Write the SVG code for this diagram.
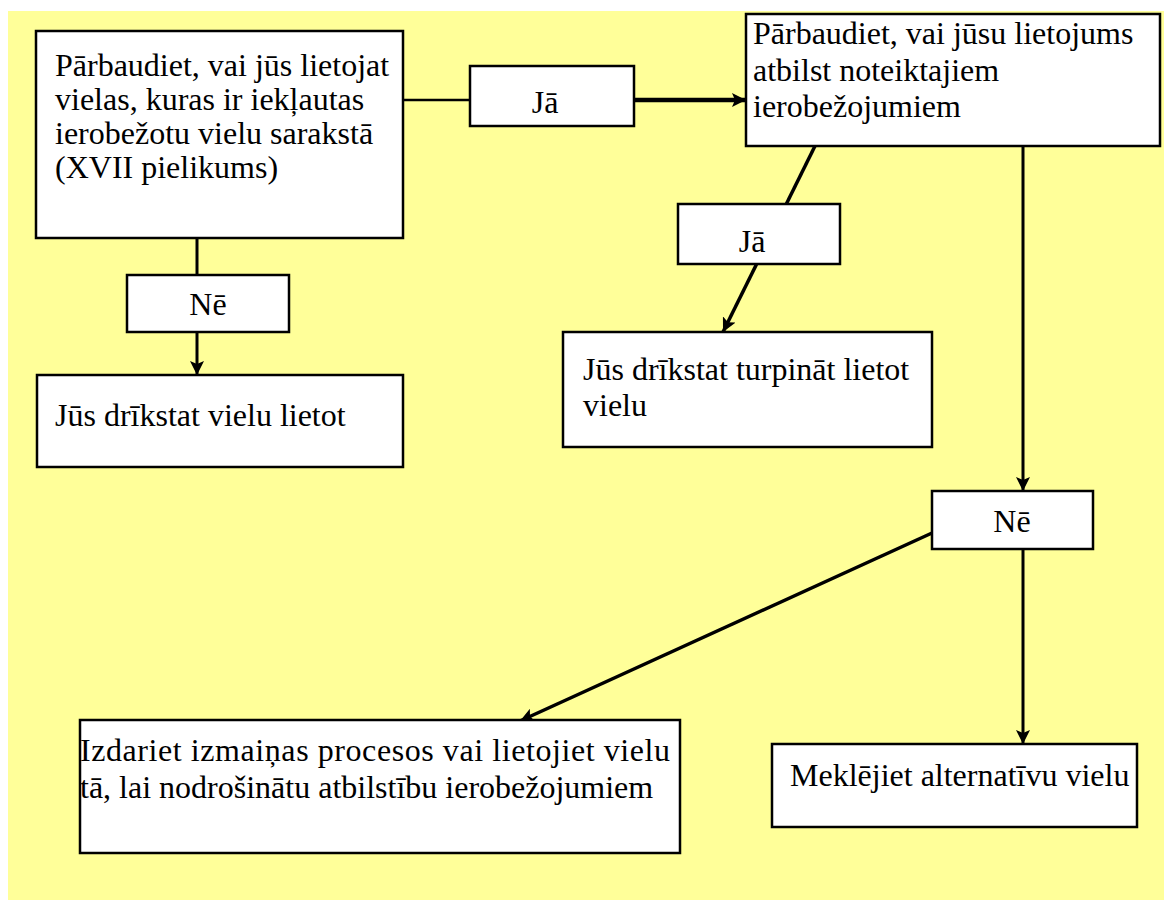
<svg xmlns="http://www.w3.org/2000/svg" width="1170" height="900" viewBox="0 0 1170 900">
  <style>
    .box { fill: #ffffff; stroke: #000000; stroke-width: 2.5; }
    .t { font-family: 'Liberation Serif', 'DejaVu Serif', serif; font-size: 32px; fill: #000000; }
    .c { text-anchor: middle; }
    .line { stroke: #000000; fill: none; }
  </style>
  <defs>
    <marker id="arrow-lg" viewBox="0 0 14 14" refX="14" refY="7" markerWidth="14" markerHeight="14" markerUnits="userSpaceOnUse" orient="auto">
      <path d="M0,0 L14,7 L0,14 L3,7 z" fill="#000000"/>
    </marker>
  </defs>

  <!-- page background -->
  <rect x="8" y="11" width="1156" height="889" fill="#ffff99"/>

  <!-- connectors (drawn under the label boxes) -->
  <g id="connectors">
    <line class="line" x1="403" y1="100" x2="470" y2="100" stroke-width="2.5"/>
    <line class="line" x1="634" y1="100" x2="746" y2="100" stroke-width="4.5" marker-end="url(#arrow-lg)"/>
    <line class="line" x1="815" y1="146" x2="723" y2="332" stroke-width="3.5" marker-end="url(#arrow-lg)"/>
    <line class="line" x1="197" y1="236" x2="197" y2="375" stroke-width="3" marker-end="url(#arrow-lg)"/>
    <line class="line" x1="1023" y1="146" x2="1023" y2="491" stroke-width="3" marker-end="url(#arrow-lg)"/>
    <line class="line" x1="1023" y1="548" x2="1023" y2="744" stroke-width="3" marker-end="url(#arrow-lg)"/>
    <line class="line" x1="932" y1="533" x2="520" y2="721" stroke-width="3.5" marker-end="url(#arrow-lg)"/>
  </g>

  <g id="check-list">
    <rect class="box" x="36" y="31" width="367" height="207"/>
    <text class="t" x="55" y="76">Pārbaudiet, vai jūs lietojat</text>
    <text class="t" x="55" y="110">vielas, kuras ir iekļautas</text>
    <text class="t" x="55" y="144">ierobežotu vielu sarakstā</text>
    <text class="t" x="55" y="178">(XVII pielikums)</text>
  </g>

  <g id="yes-1">
    <rect class="box" x="470" y="66" width="164" height="60"/>
    <text class="t c" x="545" y="113">Jā</text>
  </g>

  <g id="check-use">
    <rect class="box" x="746" y="14" width="414" height="132"/>
    <text class="t" x="753" y="44">Pārbaudiet, vai jūsu lietojums</text>
    <text class="t" x="753" y="81">atbilst noteiktajiem</text>
    <text class="t" x="753" y="117">ierobežojumiem</text>
  </g>

  <g id="no-1">
    <rect class="box" x="127" y="275" width="162" height="57"/>
    <text class="t c" x="208" y="315">Nē</text>
  </g>

  <g id="may-use">
    <rect class="box" x="37" y="375" width="366" height="92"/>
    <text class="t" x="55" y="426">Jūs drīkstat vielu lietot</text>
  </g>

  <g id="yes-2">
    <rect class="box" x="678" y="204" width="162" height="60"/>
    <text class="t c" x="752" y="252">Jā</text>
  </g>

  <g id="may-continue">
    <rect class="box" x="563" y="332" width="369" height="115"/>
    <text class="t" x="583" y="380">Jūs drīkstat turpināt lietot</text>
    <text class="t" x="583" y="416">vielu</text>
  </g>

  <g id="no-2">
    <rect class="box" x="932" y="491" width="161" height="58"/>
    <text class="t c" x="1012" y="532">Nē</text>
  </g>

  <g id="change-process">
    <rect class="box" x="80" y="720" width="600" height="133"/>
    <text class="t" x="80" y="761" textLength="590" lengthAdjust="spacing">Izdariet izmaiņas procesos vai lietojiet vielu</text>
    <text class="t" x="80" y="798">tā, lai nodrošinātu atbilstību ierobežojumiem</text>
  </g>

  <g id="find-alternative">
    <rect class="box" x="772" y="744" width="365" height="83"/>
    <text class="t" x="790" y="786">Meklējiet alternatīvu vielu</text>
  </g>
</svg>
